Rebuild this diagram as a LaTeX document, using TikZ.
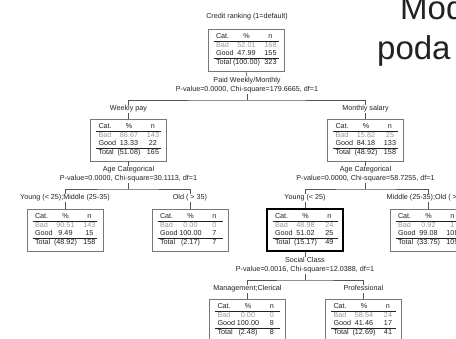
\documentclass[tikz,border=0pt]{standalone}
\usepackage{fontspec}
\setmainfont{Liberation Sans}
\usepackage{array}
\usepackage{colortbl}

\definecolor{linegray}{HTML}{555555}
\definecolor{boxgray}{HTML}{777777}
\definecolor{badgray}{HTML}{9A9A9A}
\definecolor{ink}{HTML}{222222}

% grey cell for the "Bad" row
\newcommand\badcell[1]{\textcolor{badgray}{#1}}
% category table: bad %, bad n, good %, good n, total %, total n
\newcommand\cattable[6]{%
  \arrayrulecolor{ink}%
  \begin{tabular}{@{\hspace{2.5pt}}w{l}{12pt}@{}w{c}{37pt}@{}w{c}{11pt}@{\hspace{2.5pt}}}
    Cat. & \% & n\\ \hline
    \badcell{Bad} & \badcell{#1} & \badcell{#2}\\
    Good & #3 & #4\\ \hline
    Total & (#5) & #6
  \end{tabular}}

\tikzset{
  conn/.style={draw=linegray, line width=0.6pt},
  cbox/.style={draw=boxgray, line width=0.8pt, fill=white, minimum width=76pt,
    minimum height=42pt, inner sep=0pt, text=ink,
    font=\fontsize{7.2}{8.3}\selectfont},
  boldbox/.style={cbox, draw=black, line width=1.4pt},
  lbl/.style={inner sep=0.8pt, text height=5.3pt, text depth=1.5pt, text=ink,
    font=\fontsize{7.2}{8.2}\selectfont},
  big/.style={inner sep=0pt, text=ink, font=\fontsize{33}{36}\selectfont},
}

\begin{document}
\begin{tikzpicture}[x=1pt, y=-1pt]
  \useasboundingbox (0,0) rectangle (456,339);
  \clip (0,0) rectangle (456,339);
  \fill[white] (0,0) rectangle (456,339);

  % heading fragments in the upper right
  \node[big, anchor=base west] (mod) at (400,20) {Mod};
  \node[big, anchor=base west] (poda) at (377,60) {poda};

  % root
  \node[lbl] (title) at (247,17) {Credit ranking (1=default)};
  \node[cbox] (root) at (246,50) {\cattable{52.01}{168}{47.99}{155}{100.00}{323}};
  \node[lbl] (s0v) at (247,81) {Paid Weekly/Monthly};
  \node[lbl] (s0p) at (247,90) {P-value=0.0000, Chi-square=179.6665, df=1};
  \coordinate (j0) at (247,100);

  % first split
  \node[lbl] (w) at (128.5,109) {Weekly pay};
  \node[lbl] (m) at (365.5,109) {Monthly salary};
  \node[cbox] (bw) at (128.5,140) {\cattable{86.67}{143}{13.33}{22}{51.08}{165}};
  \node[cbox] (bm) at (365.5,140) {\cattable{15.82}{25}{84.18}{133}{48.92}{158}};

  % weekly pay branch
  \node[lbl] (s1v) at (128.5,170) {Age Categorical};
  \node[lbl] (s1p) at (128.5,179) {P-value=0.0000, Chi-square=30.1113, df=1};
  \coordinate (j1) at (128.5,189);
  \node[lbl] (ym) at (65,198) {Young (< 25);Middle (25-35)};
  \node[lbl] (ol) at (190,198) {Old ( > 35)};
  \node[cbox] (bym) at (65,230) {\cattable{90.51}{143}{9.49}{15}{48.92}{158}};
  \node[cbox] (bol) at (190,230) {\cattable{0.00}{0}{100.00}{7}{2.17}{7}};

  % monthly salary branch
  \node[lbl] (s2v) at (365.5,170) {Age Categorical};
  \node[lbl] (s2p) at (365.5,179) {P-value=0.0000, Chi-square=58.7255, df=1};
  \coordinate (j2) at (365.5,189);
  \node[lbl] (yg) at (305,198) {Young (< 25)};
  \node[lbl] (mo) at (428,198) {Middle (25-35);Old ( > 35)};
  \node[boldbox] (byg) at (305,230) {\cattable{48.98}{24}{51.02}{25}{15.17}{49}};
  \node[cbox] (bmo) at (428,230) {\cattable{0.92}{1}{99.08}{108}{33.75}{109}};

  % young branch
  \node[lbl] (s3v) at (305,261) {Social Class};
  \node[lbl] (s3p) at (305,270) {P-value=0.0016, Chi-square=12.0388, df=1};
  \coordinate (j3) at (305,280);
  \node[lbl] (mc) at (247.5,289) {Management;Clerical};
  \node[lbl] (pr) at (363.5,289) {Professional};
  \node[cbox] (bmc) at (247.5,320) {\cattable{0.00}{0}{100.00}{8}{2.48}{8}};
  \node[cbox] (bpr) at (363.5,320) {\cattable{58.54}{24}{41.46}{17}{12.69}{41}};

  % connectors
  \draw[conn] (root.south) -- (s0v.north);
  \draw[conn] (s0p.south) -- (j0);
  \draw[conn] (w.north) |- (j0) -| (m.north);
  \draw[conn] (w.south) -- (bw.north);
  \draw[conn] (m.south) -- (bm.north);

  \draw[conn] (bw.south) -- (s1v.north);
  \draw[conn] (s1p.south) -- (j1);
  \draw[conn] (ym.north) |- (j1) -| (ol.north);
  \draw[conn] (ym.south) -- (bym.north);
  \draw[conn] (ol.south) -- (bol.north);

  \draw[conn] (bm.south) -- (s2v.north);
  \draw[conn] (s2p.south) -- (j2);
  \draw[conn] (yg.north) |- (j2) -| (mo.north);
  \draw[conn] (yg.south) -- (byg.north);
  \draw[conn] (mo.south) -- (bmo.north);

  \draw[conn] (byg.south) -- (s3v.north);
  \draw[conn] (s3p.south) -- (j3);
  \draw[conn] (mc.north) |- (j3) -| (pr.north);
  \draw[conn] (mc.south) -- (bmc.north);
  \draw[conn] (pr.south) -- (bpr.north);
\end{tikzpicture}
\end{document}
